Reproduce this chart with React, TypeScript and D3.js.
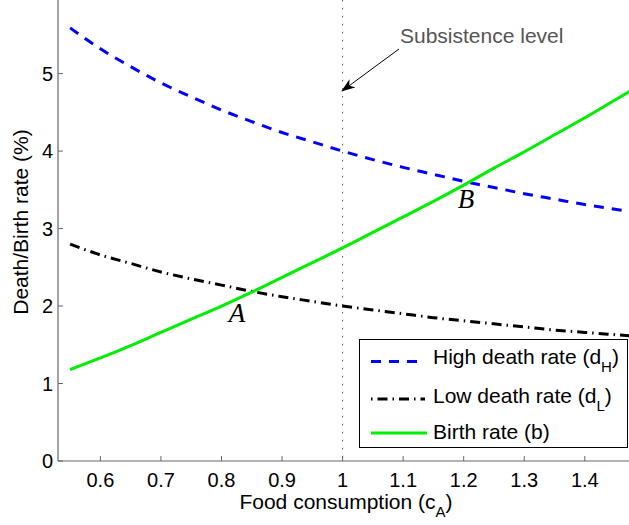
import React from "react";
import * as d3 from "d3";

// values
const foodLevels = [0.55, 0.6, 0.65, 0.7, 0.75, 0.8, 0.85, 0.9, 0.95, 1.0, 1.05, 1.1, 1.15, 1.2, 1.25, 1.3, 1.35, 1.4, 1.45, 1.5];
const highDeath = [5.59, 5.32, 5.09, 4.88, 4.7, 4.53, 4.38, 4.24, 4.12, 4.0, 3.89, 3.79, 3.7, 3.61, 3.53, 3.45, 3.38, 3.31, 3.25, 3.19];
const lowDeath = [2.8, 2.66, 2.55, 2.44, 2.35, 2.27, 2.19, 2.12, 2.06, 2.0, 1.95, 1.9, 1.85, 1.81, 1.77, 1.73, 1.69, 1.66, 1.63, 1.6];
const birthRate = [1.18, 1.33, 1.49, 1.66, 1.83, 2.0, 2.18, 2.37, 2.56, 2.75, 2.95, 3.15, 3.35, 3.56, 3.78, 3.99, 4.21, 4.43, 4.66, 4.89];
const xTicks = [0.6, 0.7, 0.8, 0.9, 1, 1.1, 1.2, 1.3, 1.4];
const yTicks = [0, 1, 2, 3, 4, 5];
const subsistence = 1;
const pointA = { x: 0.85, y: 2.19 };
const pointB = { x: 1.21, y: 3.6 };

const font = "Liberation Sans, Arial, Helvetica, sans-serif";
const W = 629;
const H = 525;
const left = 58;
const bottom = 461;

const App = () => {
  const x = d3.scaleLinear().domain([0.53, 1.473]).range([left, W]);
  const y = d3.scaleLinear().domain([0, 5.95]).range([bottom, 0]);

  const line = (vals: number[]) =>
    d3.line<number>()
      .x((_, i) => x(foodLevels[i]))
      .y((d) => y(d))
      .curve(d3.curveMonotoneX)(vals) || "";

  const axisColor = "#666";
  const xs = x(subsistence);

  return (
    <svg width={W} height={H} style={{ position: "absolute", left: 0, top: 0, background: "#fff" }}>
      <defs>
        <clipPath id="plot">
          <rect x={left} y={0} width={W - left} height={bottom} />
        </clipPath>
        <marker id="arrow" viewBox="0 0 14 10" refX="13" refY="5" markerWidth="14" markerHeight="10" orient="auto" markerUnits="userSpaceOnUse">
          <path d="M0,0 L14,5 L0,10 L4,5 Z" fill="#000" />
        </marker>
      </defs>

      {/* subsistence line */}
      <line x1={xs} x2={xs} y1={0} y2={bottom} stroke="#555" strokeWidth={1} strokeDasharray="1.5,6.5" />

      <g clipPath="url(#plot)" fill="none" strokeWidth={3}>
        <path d={line(highDeath)} stroke="#0000ff" strokeDasharray="10,8" />
        <path d={line(lowDeath)} stroke="#000" strokeDasharray="10,5,1.5,5" />
        <path d={line(birthRate)} stroke="#00ee00" />
      </g>

      {/* axes */}
      <line x1={left} x2={left} y1={0} y2={bottom} stroke={axisColor} strokeWidth={1.2} />
      <line x1={left} x2={W} y1={bottom} y2={bottom} stroke={axisColor} strokeWidth={1.2} />
      {xTicks.map((t) => (
        <g key={"x" + t}>
          <line x1={x(t)} x2={x(t)} y1={bottom} y2={bottom - 5} stroke={axisColor} />
          <text x={x(t)} y={487} textAnchor="middle" fontFamily={font} fontSize={20} fill="#000">
            {d3.format("~g")(t)}
          </text>
        </g>
      ))}
      {yTicks.map((t) => (
        <g key={"y" + t}>
          <line x1={left} x2={left + 5} y1={y(t)} y2={y(t)} stroke={axisColor} />
          <text x={53} y={y(t) + 7} textAnchor="end" fontFamily={font} fontSize={20} fill="#000">
            {t}
          </text>
        </g>
      ))}

      {/* axis labels */}
      <text x={346} y={509} textAnchor="middle" fontFamily={font} fontSize={21} fill="#000">
        Food consumption (c<tspan dy={8} fontSize={15}>A</tspan><tspan dy={-8}>)</tspan>
      </text>
      <text transform={`translate(28,222) rotate(-90)`} textAnchor="middle" fontFamily={font} fontSize={21} fill="#000">
        Death/Birth rate (%)
      </text>

      {/* annotation */}
      <text x={400} y={43} fontFamily={font} fontSize={21} fill="#555">Subsistence level</text>
      <line x1={399} y1={49} x2={342} y2={91} stroke="#000" strokeWidth={1} markerEnd="url(#arrow)" />

      <text x={x(pointA.x) - 23} y={y(pointA.y) + 31} fontFamily="Liberation Serif, serif" fontStyle="italic" fontSize={27} fill="#000">A</text>
      <text x={x(pointB.x) - 12} y={y(pointB.y) + 26} fontFamily="Liberation Serif, serif" fontStyle="italic" fontSize={27} fill="#000">B</text>

      {/* legend */}
      <g>
        <rect x={359.5} y={339.5} width={268} height={108} fill="#fff" stroke="#000" strokeWidth={1} />
        <line x1={371} x2={425} y1={361.5} y2={361.5} stroke="#0000ff" strokeWidth={3} strokeDasharray="10,8" />
        <line x1={371} x2={425} y1={399} y2={399} stroke="#000" strokeWidth={3} strokeDasharray="1.5,5,10,5" />
        <line x1={371} x2={427} y1={433} y2={433} stroke="#00ee00" strokeWidth={3} />
        <g fontFamily={font} fontSize={21} fill="#000">
          <text x={433} y={364}>High death rate (d<tspan dy={8} fontSize={15}>H</tspan><tspan dy={-8}>)</tspan></text>
          <text x={433} y={403}>Low death rate (d<tspan dy={8} fontSize={15}>L</tspan><tspan dy={-8}>)</tspan></text>
          <text x={433} y={439}>Birth rate (b)</text>
        </g>
      </g>
    </svg>
  );
};

export default App;
